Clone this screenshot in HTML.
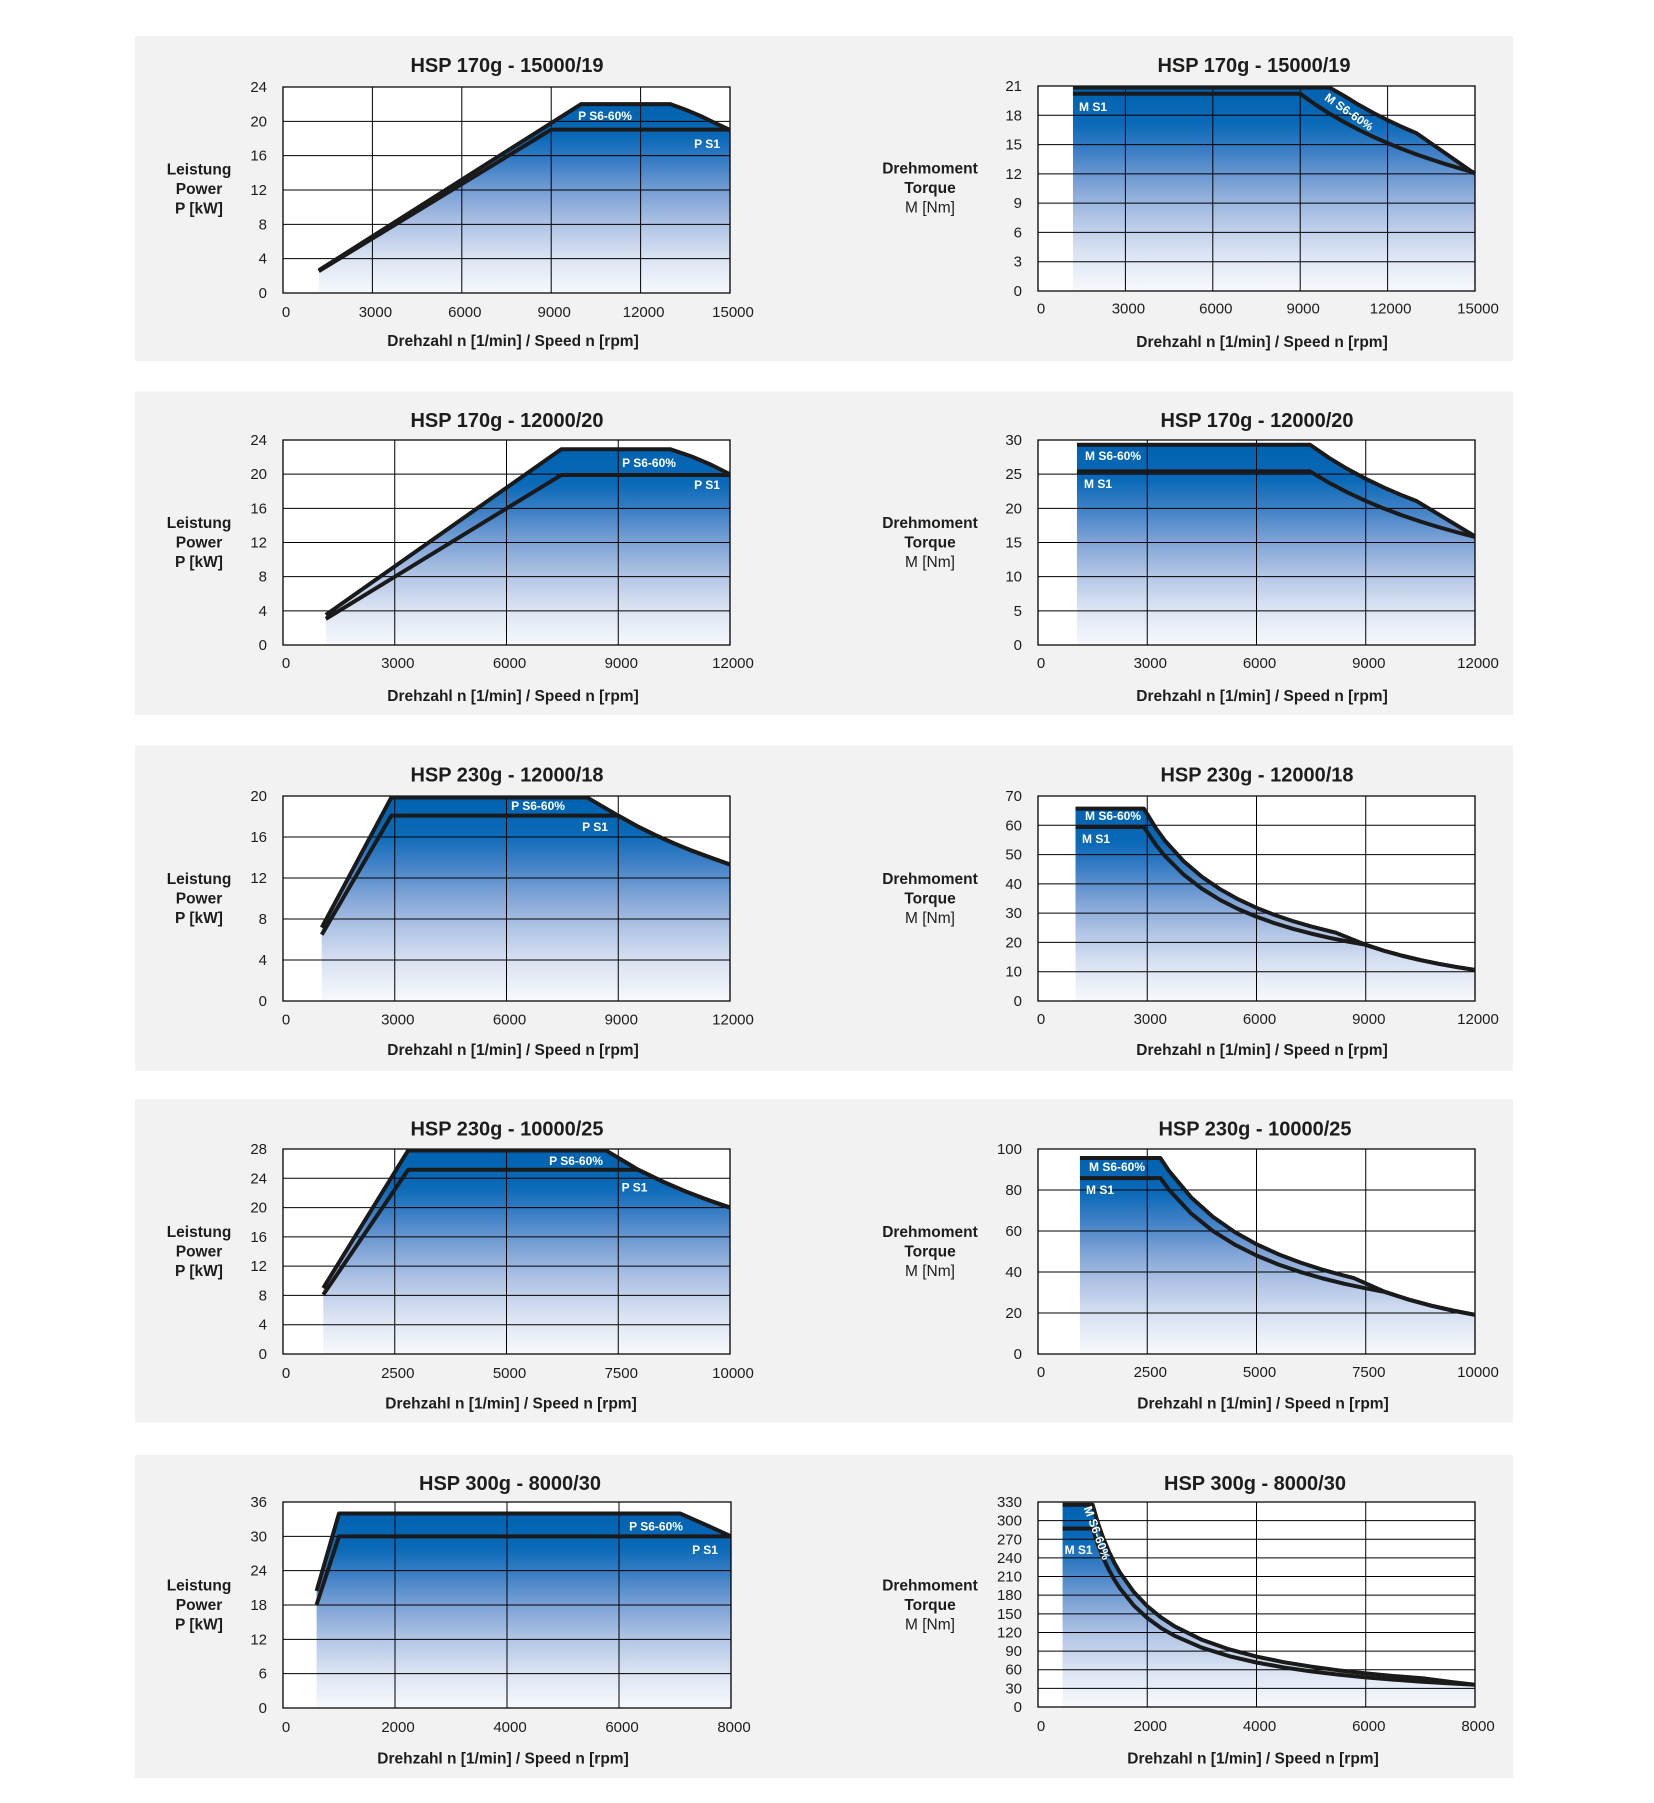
<!DOCTYPE html>
<html><head><meta charset="utf-8">
<style>
html,body{margin:0;padding:0;background:#fff;}
svg text{font-family:"Liberation Sans",Arial,sans-serif;fill:#1d1d1b;}
.f{fill:url(#bf);}
.g{fill:none;stroke:#000;stroke-width:1;vector-effect:non-scaling-stroke;}
.b{fill:none;stroke:#000;stroke-width:1.3;vector-effect:non-scaling-stroke;}
.c{fill:none;stroke:#1a1a1a;stroke-width:4;stroke-linejoin:round;vector-effect:non-scaling-stroke;}
.t{font-size:20px;font-weight:bold;text-anchor:middle;}
.yl{font-size:15px;text-anchor:end;}
.xl{font-size:15px;text-anchor:middle;}
.at{font-size:15.5px;font-weight:bold;text-anchor:middle;}
.an{font-size:15.5px;font-weight:normal;text-anchor:middle;}
svg text.sl{font-size:12px;font-weight:bold;text-anchor:middle;fill:#fff;}
</style></head>
<body>
<svg width="1654" height="1798" viewBox="0 0 1654 1798" xmlns="http://www.w3.org/2000/svg">
<defs>
<linearGradient id="bf" x1="0" y1="0" x2="0" y2="1">
<stop offset="0" stop-color="#0062b0"/>
<stop offset="0.18" stop-color="#0b6ab8"/>
<stop offset="0.32" stop-color="#3f80c6"/>
<stop offset="0.48" stop-color="#7ea3d6"/>
<stop offset="0.65" stop-color="#b3c6e6"/>
<stop offset="0.82" stop-color="#dbe4f3"/>
<stop offset="1" stop-color="#f7f9fc"/>
</linearGradient>
</defs>

<!-- panels -->
<rect x="135" y="36" width="1378" height="325" fill="#f2f2f2"/>
<rect x="135" y="391.5" width="1378" height="323.5" fill="#f2f2f2"/>
<rect x="135" y="745.5" width="1378" height="325.5" fill="#f2f2f2"/>
<rect x="135" y="1099" width="1378" height="323.5" fill="#f2f2f2"/>
<rect x="135" y="1455" width="1378" height="323" fill="#f2f2f2"/>

<!-- ================= ROW 1 ================= -->
<text class="t" x="507" y="72">HSP 170g - 15000/19</text>
<text class="t" x="1254" y="72">HSP 170g - 15000/19</text>

<rect x="283" y="87" width="447" height="206" fill="#fff"/>
<svg x="283" y="87" width="447" height="206" viewBox="0 -24 15 24" preserveAspectRatio="none" style="overflow:visible">
<path class="f" d="M1.2,0 V-2.64 L10,-22 H13 L13.5,-21.37 L14,-20.64 L14.5,-19.8 L15,-19 V0 Z"/>
<path class="g" d="M3,0V-24M6,0V-24M9,0V-24M12,0V-24M0,-4H15M0,-8H15M0,-12H15M0,-16H15M0,-20H15"/>
<rect class="b" x="0" y="-24" width="15" height="24"/>
<path class="c" d="M1.2,-2.54 L9,-19.04 H15"/>
<path class="c" d="M1.2,-2.64 L10,-22 H13 L13.5,-21.37 L14,-20.64 L14.5,-19.8 L15,-19"/>
</svg>
<text class="sl" x="605" y="120">P S6-60%</text>
<text class="sl" x="707" y="148">P S1</text>
<text class="yl" x="267" y="92">24</text><text class="yl" x="267" y="126.3">20</text><text class="yl" x="267" y="160.7">16</text><text class="yl" x="267" y="195">12</text><text class="yl" x="267" y="229.3">8</text><text class="yl" x="267" y="263.7">4</text><text class="yl" x="267" y="298">0</text>
<text class="xl" x="286" y="317">0</text><text class="xl" x="375.4" y="317">3000</text><text class="xl" x="464.8" y="317">6000</text><text class="xl" x="554.2" y="317">9000</text><text class="xl" x="643.6" y="317">12000</text><text class="xl" x="733" y="317">15000</text>
<text class="at" x="513" y="346">Drehzahl n [1/min] / Speed n [rpm]</text>
<text class="at" x="199" y="174.5">Leistung</text><text class="at" x="199" y="194">Power</text><text class="at" x="199" y="213.5">P [kW]</text>

<rect x="1038" y="86" width="437" height="205" fill="#fff"/>
<svg x="1038" y="86" width="437" height="205" viewBox="0 -21 15 21" preserveAspectRatio="none" style="overflow:visible">
<path class="f" d="M1.2,0 V-20.85 H10 L10.5,-20 L11,-19.09 L11.5,-18.26 L12,-17.5 L12.5,-16.8 L13,-16.15 L15,-12 V0 Z"/>
<path class="g" d="M3,0V-21M6,0V-21M9,0V-21M12,0V-21M0,-3H15M0,-6H15M0,-9H15M0,-12H15M0,-15H15M0,-18H15"/>
<rect class="b" x="0" y="-21" width="15" height="21"/>
<path class="c" d="M1.2,-20.2 H9 L9.5,-19.14 L10,-18.18 L10.5,-17.31 L11,-16.53 L11.5,-15.81 L12,-15.15 L12.5,-14.54 L13,-13.98 L13.5,-13.47 L14,-12.99 L14.5,-12.54 L15,-12.12"/>
<path class="c" d="M1.2,-20.85 H10 L10.5,-20 L11,-19.09 L11.5,-18.26 L12,-17.5 L12.5,-16.8 L13,-16.15 L15,-12"/>
</svg>
<text class="sl" x="1093" y="111">M S1</text>
<text class="sl" transform="translate(1349,112) rotate(35)" x="0" y="4">M S6-60%</text>
<text class="yl" x="1022" y="91">21</text><text class="yl" x="1022" y="120.3">18</text><text class="yl" x="1022" y="149.6">15</text><text class="yl" x="1022" y="178.9">12</text><text class="yl" x="1022" y="208.1">9</text><text class="yl" x="1022" y="237.4">6</text><text class="yl" x="1022" y="266.7">3</text><text class="yl" x="1022" y="296">0</text>
<text class="xl" x="1041" y="313.5">0</text><text class="xl" x="1128.4" y="313.5">3000</text><text class="xl" x="1215.8" y="313.5">6000</text><text class="xl" x="1303.2" y="313.5">9000</text><text class="xl" x="1390.6" y="313.5">12000</text><text class="xl" x="1478" y="313.5">15000</text>
<text class="at" x="1262" y="347">Drehzahl n [1/min] / Speed n [rpm]</text>
<text class="at" x="930" y="173.5">Drehmoment</text><text class="at" x="930" y="193">Torque</text><text class="an" x="930" y="212.5">M [Nm]</text>

<!-- ================= ROW 2 ================= -->
<text class="t" x="507" y="427">HSP 170g - 12000/20</text>
<text class="t" x="1257" y="427">HSP 170g - 12000/20</text>

<rect x="283" y="440" width="447" height="205" fill="#fff"/>
<svg x="283" y="440" width="447" height="205" viewBox="0 -24 12 24" preserveAspectRatio="none" style="overflow:visible">
<path class="f" d="M1.15,0 V-3.53 L7.47,-22.92 H10.4 L11,-22.02 L11.5,-21.09 L12,-19.98 V0 Z"/>
<path class="g" d="M3,0V-24M6,0V-24M9,0V-24M0,-4H12M0,-8H12M0,-12H12M0,-16H12M0,-20H12"/>
<rect class="b" x="0" y="-24" width="12" height="24"/>
<path class="c" d="M1.15,-3.06 L7.47,-19.9 H12"/>
<path class="c" d="M1.15,-3.53 L7.47,-22.92 H10.4 L11,-22.02 L11.5,-21.09 L12,-19.98"/>
</svg>
<text class="sl" x="649" y="467">P S6-60%</text>
<text class="sl" x="707" y="489">P S1</text>
<text class="yl" x="267" y="445">24</text><text class="yl" x="267" y="479.2">20</text><text class="yl" x="267" y="513.3">16</text><text class="yl" x="267" y="547.5">12</text><text class="yl" x="267" y="581.7">8</text><text class="yl" x="267" y="615.8">4</text><text class="yl" x="267" y="650">0</text>
<text class="xl" x="286" y="668">0</text><text class="xl" x="397.75" y="668">3000</text><text class="xl" x="509.5" y="668">6000</text><text class="xl" x="621.25" y="668">9000</text><text class="xl" x="733" y="668">12000</text>
<text class="at" x="513" y="701">Drehzahl n [1/min] / Speed n [rpm]</text>
<text class="at" x="199" y="528">Leistung</text><text class="at" x="199" y="547.5">Power</text><text class="at" x="199" y="567">P [kW]</text>

<rect x="1038" y="440" width="437" height="205" fill="#fff"/>
<svg x="1038" y="440" width="437" height="205" viewBox="0 -30 12 30" preserveAspectRatio="none" style="overflow:visible">
<path class="f" d="M1.07,0 V-29.3 H7.47 L8,-27.36 L8.5,-25.75 L9,-24.32 L9.5,-23.04 L10,-21.89 L10.4,-21.05 L12,-15.9 V0 Z"/>
<path class="g" d="M3,0V-30M6,0V-30M9,0V-30M0,-5H12M0,-10H12M0,-15H12M0,-20H12M0,-25H12"/>
<rect class="b" x="0" y="-30" width="12" height="30"/>
<path class="c" d="M1.07,-25.4 H7.47 L8,-23.72 L8.5,-22.32 L9,-21.08 L9.5,-19.97 L10,-18.97 L10.5,-18.07 L11,-17.25 L11.5,-16.5 L12,-15.81"/>
<path class="c" d="M1.07,-29.3 H7.47 L8,-27.36 L8.5,-25.75 L9,-24.32 L9.5,-23.04 L10,-21.89 L10.4,-21.05 L12,-15.9"/>
</svg>
<text class="sl" x="1113" y="460">M S6-60%</text>
<text class="sl" x="1098" y="488">M S1</text>
<text class="yl" x="1022" y="445">30</text><text class="yl" x="1022" y="479.2">25</text><text class="yl" x="1022" y="513.3">20</text><text class="yl" x="1022" y="547.5">15</text><text class="yl" x="1022" y="581.7">10</text><text class="yl" x="1022" y="615.8">5</text><text class="yl" x="1022" y="650">0</text>
<text class="xl" x="1041" y="668">0</text><text class="xl" x="1150.25" y="668">3000</text><text class="xl" x="1259.5" y="668">6000</text><text class="xl" x="1368.75" y="668">9000</text><text class="xl" x="1478" y="668">12000</text>
<text class="at" x="1262" y="701">Drehzahl n [1/min] / Speed n [rpm]</text>
<text class="at" x="930" y="528">Drehmoment</text><text class="at" x="930" y="547.5">Torque</text><text class="an" x="930" y="567">M [Nm]</text>

<!-- ================= ROW 3 ================= -->
<text class="t" x="507" y="781.3">HSP 230g - 12000/18</text>
<text class="t" x="1257" y="781.3">HSP 230g - 12000/18</text>

<rect x="283" y="796" width="447" height="205" fill="#fff"/>
<svg x="283" y="796" width="447" height="205" viewBox="0 -20 12 20" preserveAspectRatio="none" style="overflow:visible">
<path class="f" d="M1.04,0 V-7.16 L2.906,-19.85 H8.17 L9,-18.08 L9.5,-17.07 L10,-16.18 L10.5,-15.37 L11,-14.63 L11.5,-13.96 L12,-13.32 V0 Z"/>
<path class="g" d="M3,0V-20M6,0V-20M9,0V-20M0,-4H12M0,-8H12M0,-12H12M0,-16H12"/>
<rect class="b" x="0" y="-20" width="12" height="20"/>
<path class="c" d="M1.04,-6.47 L2.906,-18.08 H9 L9.5,-17.07 L10,-16.18 L10.5,-15.37 L11,-14.63 L11.5,-13.96 L12,-13.32"/>
<path class="c" d="M1.04,-7.16 L2.906,-19.85 H8.17 L9,-18.08 L9.5,-17.07 L10,-16.18 L10.5,-15.37 L11,-14.63 L11.5,-13.96 L12,-13.32"/>
</svg>
<text class="sl" x="538" y="810">P S6-60%</text>
<text class="sl" x="595" y="831">P S1</text>
<text class="yl" x="267" y="801">20</text><text class="yl" x="267" y="842">16</text><text class="yl" x="267" y="883">12</text><text class="yl" x="267" y="924">8</text><text class="yl" x="267" y="965">4</text><text class="yl" x="267" y="1006">0</text>
<text class="xl" x="286" y="1024.5">0</text><text class="xl" x="397.75" y="1024.5">3000</text><text class="xl" x="509.5" y="1024.5">6000</text><text class="xl" x="621.25" y="1024.5">9000</text><text class="xl" x="733" y="1024.5">12000</text>
<text class="at" x="513" y="1055">Drehzahl n [1/min] / Speed n [rpm]</text>
<text class="at" x="199" y="884">Leistung</text><text class="at" x="199" y="903.5">Power</text><text class="at" x="199" y="923">P [kW]</text>

<rect x="1038" y="796" width="437" height="205" fill="#fff"/>
<svg x="1038" y="796" width="437" height="205" viewBox="0 -70 12 70" preserveAspectRatio="none" style="overflow:visible">
<path class="f" d="M1.03,0 V-65.7 H2.906 L3.25,-58.74 L3.5,-54.54 L4,-47.72 L4.5,-42.42 L5,-38.18 L5.5,-34.71 L6,-31.82 L6.5,-29.37 L7,-27.27 L7.5,-25.45 L8,-23.86 L8.17,-23.37 L9,-19.18 L9.5,-17.16 L10,-15.45 L10.5,-13.98 L11,-12.7 L11.5,-11.59 L12,-10.6 V0 Z"/>
<path class="g" d="M3,0V-70M6,0V-70M9,0V-70M0,-10H12M0,-20H12M0,-30H12M0,-40H12M0,-50H12M0,-60H12"/>
<rect class="b" x="0" y="-70" width="12" height="70"/>
<path class="c" d="M1.03,-59.4 H2.906 L3.25,-53.1 L3.5,-49.31 L4,-43.15 L4.5,-38.36 L5,-34.52 L5.5,-31.38 L6,-28.77 L6.5,-26.55 L7,-24.66 L7.5,-23.01 L8,-21.58 L8.5,-20.31 L9,-19.18 L9.5,-17.16 L10,-15.45 L10.5,-13.98 L11,-12.7 L11.5,-11.59 L12,-10.6"/>
<path class="c" d="M1.03,-65.7 H2.906 L3.25,-58.74 L3.5,-54.54 L4,-47.72 L4.5,-42.42 L5,-38.18 L5.5,-34.71 L6,-31.82 L6.5,-29.37 L7,-27.27 L7.5,-25.45 L8,-23.86 L8.17,-23.37 L9,-19.18 L9.5,-17.16 L10,-15.45 L10.5,-13.98 L11,-12.7 L11.5,-11.59 L12,-10.6"/>
</svg>
<text class="sl" x="1113" y="820">M S6-60%</text>
<text class="sl" x="1096" y="843">M S1</text>
<text class="yl" x="1022" y="801">70</text><text class="yl" x="1022" y="830.3">60</text><text class="yl" x="1022" y="859.6">50</text><text class="yl" x="1022" y="888.9">40</text><text class="yl" x="1022" y="918.1">30</text><text class="yl" x="1022" y="947.4">20</text><text class="yl" x="1022" y="976.7">10</text><text class="yl" x="1022" y="1006">0</text>
<text class="xl" x="1041" y="1024">0</text><text class="xl" x="1150.25" y="1024">3000</text><text class="xl" x="1259.5" y="1024">6000</text><text class="xl" x="1368.75" y="1024">9000</text><text class="xl" x="1478" y="1024">12000</text>
<text class="at" x="1262" y="1055">Drehzahl n [1/min] / Speed n [rpm]</text>
<text class="at" x="930" y="884">Drehmoment</text><text class="at" x="930" y="903.5">Torque</text><text class="an" x="930" y="923">M [Nm]</text>

<!-- ================= ROW 4 ================= -->
<text class="t" x="507" y="1135.3">HSP 230g - 10000/25</text>
<text class="t" x="1255" y="1135.3">HSP 230g - 10000/25</text>

<rect x="283" y="1149" width="447" height="205" fill="#fff"/>
<svg x="283" y="1149" width="447" height="205" viewBox="0 -28 10 28" preserveAspectRatio="none" style="overflow:visible">
<path class="f" d="M0.9,0 V-9.01 L2.8,-27.8 H7.225 L7.95,-25.16 L8.5,-23.53 L9,-22.22 L9.5,-21.05 L10,-20 V0 Z"/>
<path class="g" d="M2.5,0V-28M5,0V-28M7.5,0V-28M0,-4H10M0,-8H10M0,-12H10M0,-16H10M0,-20H10M0,-24H10"/>
<rect class="b" x="0" y="-28" width="10" height="28"/>
<path class="c" d="M0.9,-8.09 L2.8,-25.16 H7.95 L8.5,-23.53 L9,-22.22 L9.5,-21.05 L10,-20"/>
<path class="c" d="M0.9,-9.01 L2.8,-27.8 H7.225 L7.95,-25.16 L8.5,-23.53 L9,-22.22 L9.5,-21.05 L10,-20"/>
</svg>
<text class="sl" x="576" y="1165">P S6-60%</text>
<text class="sl" x="634.5" y="1191.5">P S1</text>
<text class="yl" x="267" y="1154">28</text><text class="yl" x="267" y="1183.3">24</text><text class="yl" x="267" y="1212.6">20</text><text class="yl" x="267" y="1241.9">16</text><text class="yl" x="267" y="1271.1">12</text><text class="yl" x="267" y="1300.4">8</text><text class="yl" x="267" y="1329.7">4</text><text class="yl" x="267" y="1359">0</text>
<text class="xl" x="286" y="1378">0</text><text class="xl" x="397.75" y="1378">2500</text><text class="xl" x="509.5" y="1378">5000</text><text class="xl" x="621.25" y="1378">7500</text><text class="xl" x="733" y="1378">10000</text>
<text class="at" x="511" y="1408.3">Drehzahl n [1/min] / Speed n [rpm]</text>
<text class="at" x="199" y="1237">Leistung</text><text class="at" x="199" y="1256.5">Power</text><text class="at" x="199" y="1276">P [kW]</text>

<rect x="1038" y="1149" width="437" height="205" fill="#fff"/>
<svg x="1038" y="1149" width="437" height="205" viewBox="0 -100 10 100" preserveAspectRatio="none" style="overflow:visible">
<path class="f" d="M0.96,0 V-95.6 H2.8 L3,-89.23 L3.5,-76.49 L4,-66.93 L4.5,-59.49 L5,-53.54 L5.5,-48.67 L6,-44.62 L6.5,-41.18 L7,-38.24 L7.225,-37.05 L7.95,-30.22 L8.5,-26.43 L9,-23.58 L9.5,-21.16 L10,-19.1 V0 Z"/>
<path class="g" d="M2.5,0V-100M5,0V-100M7.5,0V-100M0,-20H10M0,-40H10M0,-60H10M0,-80H10"/>
<rect class="b" x="0" y="-100" width="10" height="100"/>
<path class="c" d="M0.96,-85.8 H2.8 L3,-80.07 L3.5,-68.63 L4,-60.05 L4.5,-53.38 L5,-48.04 L5.5,-43.67 L6,-40.03 L6.5,-36.95 L7,-34.31 L7.5,-32.03 L7.95,-30.22 L8.5,-26.43 L9,-23.58 L9.5,-21.16 L10,-19.1"/>
<path class="c" d="M0.96,-95.6 H2.8 L3,-89.23 L3.5,-76.49 L4,-66.93 L4.5,-59.49 L5,-53.54 L5.5,-48.67 L6,-44.62 L6.5,-41.18 L7,-38.24 L7.225,-37.05 L7.95,-30.22 L8.5,-26.43 L9,-23.58 L9.5,-21.16 L10,-19.1"/>
</svg>
<text class="sl" x="1117" y="1171">M S6-60%</text>
<text class="sl" x="1100" y="1194">M S1</text>
<text class="yl" x="1022" y="1154">100</text><text class="yl" x="1022" y="1195">80</text><text class="yl" x="1022" y="1236">60</text><text class="yl" x="1022" y="1277">40</text><text class="yl" x="1022" y="1318">20</text><text class="yl" x="1022" y="1359">0</text>
<text class="xl" x="1041" y="1377">0</text><text class="xl" x="1150.25" y="1377">2500</text><text class="xl" x="1259.5" y="1377">5000</text><text class="xl" x="1368.75" y="1377">7500</text><text class="xl" x="1478" y="1377">10000</text>
<text class="at" x="1263" y="1408.3">Drehzahl n [1/min] / Speed n [rpm]</text>
<text class="at" x="930" y="1237">Drehmoment</text><text class="at" x="930" y="1256.5">Torque</text><text class="an" x="930" y="1276">M [Nm]</text>

<!-- ================= ROW 5 ================= -->
<text class="t" x="510" y="1490">HSP 300g - 8000/30</text>
<text class="t" x="1255" y="1490">HSP 300g - 8000/30</text>

<rect x="283" y="1502" width="448" height="206" fill="#fff"/>
<svg x="283" y="1502" width="448" height="206" viewBox="0 -36 8 36" preserveAspectRatio="none" style="overflow:visible">
<path class="f" d="M0.6,0 V-20.46 L1,-34 H7.09 L7.6,-31.8 L8,-30 V0 Z"/>
<path class="g" d="M2,0V-36M4,0V-36M6,0V-36M0,-6H8M0,-12H8M0,-18H8M0,-24H8M0,-30H8"/>
<rect class="b" x="0" y="-36" width="8" height="36"/>
<path class="c" d="M0.6,-18.06 L1,-30 H8"/>
<path class="c" d="M0.6,-20.46 L1,-34 H7.09 L7.6,-31.8 L8,-30"/>
</svg>
<text class="sl" x="656" y="1530.5">P S6-60%</text>
<text class="sl" x="705" y="1554">P S1</text>
<text class="yl" x="267" y="1507">36</text><text class="yl" x="267" y="1541.3">30</text><text class="yl" x="267" y="1575.7">24</text><text class="yl" x="267" y="1610">18</text><text class="yl" x="267" y="1644.3">12</text><text class="yl" x="267" y="1678.7">6</text><text class="yl" x="267" y="1713">0</text>
<text class="xl" x="286" y="1732">0</text><text class="xl" x="398" y="1732">2000</text><text class="xl" x="510" y="1732">4000</text><text class="xl" x="622" y="1732">6000</text><text class="xl" x="734" y="1732">8000</text>
<text class="at" x="503" y="1763.7">Drehzahl n [1/min] / Speed n [rpm]</text>
<text class="at" x="199" y="1590.5">Leistung</text><text class="at" x="199" y="1610">Power</text><text class="at" x="199" y="1629.5">P [kW]</text>

<rect x="1038" y="1502" width="437" height="205" fill="#fff"/>
<svg x="1038" y="1502" width="437" height="205" viewBox="0 -330 8 330" preserveAspectRatio="none" style="overflow:visible">
<path class="f" d="M0.45,0 V-325.6 H1.0 L1.1,-295.2 L1.2,-270.6 L1.3,-249.8 L1.4,-231.9 L1.5,-216.5 L1.75,-185.5 L2,-162.3 L2.25,-144.3 L2.5,-129.9 L3,-108.2 L3.5,-92.77 L4,-81.17 L4.5,-72.16 L5,-64.94 L5.5,-59.03 L6,-54.11 L6.5,-49.95 L7.09,-45.8 L7.6,-39.96 L8,-35.8 V0 Z"/>
<path class="g" d="M2,0V-330M4,0V-330M6,0V-330M0,-30H8M0,-60H8M0,-90H8M0,-120H8M0,-150H8M0,-180H8M0,-210H8M0,-240H8M0,-270H8M0,-300H8"/>
<rect class="b" x="0" y="-330" width="8" height="330"/>
<path class="c" d="M0.45,-287.4 H1.0 L1.1,-260.5 L1.2,-238.8 L1.3,-220.4 L1.4,-204.6 L1.5,-191 L1.75,-163.7 L2,-143.3 L2.25,-127.3 L2.5,-114.6 L3,-95.5 L3.5,-81.86 L4,-71.63 L4.5,-63.67 L5,-57.3 L5.5,-52.09 L6,-47.75 L6.5,-44.08 L7,-40.93 L7.5,-38.2 L8,-35.81"/>
<path class="c" d="M0.45,-325.6 H1.0 L1.1,-295.2 L1.2,-270.6 L1.3,-249.8 L1.4,-231.9 L1.5,-216.5 L1.75,-185.5 L2,-162.3 L2.25,-144.3 L2.5,-129.9 L3,-108.2 L3.5,-92.77 L4,-81.17 L4.5,-72.16 L5,-64.94 L5.5,-59.03 L6,-54.11 L6.5,-49.95 L7.09,-45.8 L7.6,-39.96 L8,-35.8"/>
</svg>
<text class="sl" x="1078.6" y="1554">M S1</text>
<text class="sl" transform="translate(1097,1533) rotate(70)" x="0" y="4">M S6-60%</text>
<text class="yl" x="1022" y="1507">330</text><text class="yl" x="1022" y="1525.6">300</text><text class="yl" x="1022" y="1544.3">270</text><text class="yl" x="1022" y="1562.9">240</text><text class="yl" x="1022" y="1581.5">210</text><text class="yl" x="1022" y="1600.2">180</text><text class="yl" x="1022" y="1618.8">150</text><text class="yl" x="1022" y="1637.5">120</text><text class="yl" x="1022" y="1656.1">90</text><text class="yl" x="1022" y="1674.7">60</text><text class="yl" x="1022" y="1693.4">30</text><text class="yl" x="1022" y="1712">0</text>
<text class="xl" x="1041" y="1731">0</text><text class="xl" x="1150.25" y="1731">2000</text><text class="xl" x="1259.5" y="1731">4000</text><text class="xl" x="1368.75" y="1731">6000</text><text class="xl" x="1478" y="1731">8000</text>
<text class="at" x="1253" y="1763.7">Drehzahl n [1/min] / Speed n [rpm]</text>
<text class="at" x="930" y="1590.5">Drehmoment</text><text class="at" x="930" y="1610">Torque</text><text class="an" x="930" y="1629.5">M [Nm]</text>
</svg>
</body></html>
